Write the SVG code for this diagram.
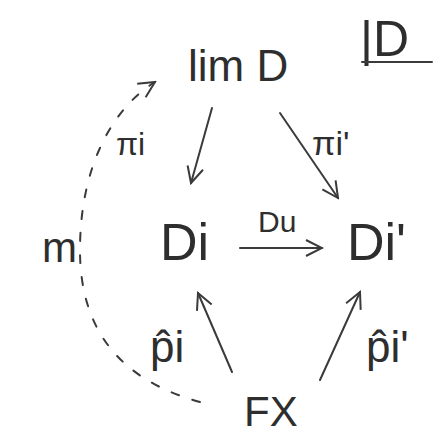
<svg xmlns="http://www.w3.org/2000/svg" width="434" height="439" viewBox="0 0 434 439">
<style>
.t{font-family:"Liberation Sans","DejaVu Sans",sans-serif;fill:#2e2e2e}
.e{stroke:#3a3a3a;stroke-width:2;fill:none;stroke-linecap:round}
</style>
<defs>
<marker id="ahb" viewBox="0 0 20 20" refX="18" refY="10" markerWidth="20" markerHeight="20" markerUnits="userSpaceOnUse" orient="auto">
<path d="M2,2 L18,10 L2,18" fill="none" stroke="#3a3a3a" stroke-width="2"/>
</marker>
</defs>
<rect width="434" height="439" fill="#ffffff"/>
<g id="title">
<text class="t" x="360" y="56" font-size="50">|D</text>
<line x1="362" y1="62" x2="432" y2="62" class="e"/>
</g>
<g id="limD"><text class="t" x="188" y="81" font-size="44">lim D</text></g>
<g id="Di"><text class="t" x="160" y="260" font-size="52">Di</text></g>
<g id="Di2"><text class="t" x="347" y="260" font-size="52">Di'</text></g>
<g id="FX"><text class="t" x="244" y="426" font-size="42">FX</text></g>
<g id="connectors">
<line class="e" x1="212" y1="108" x2="191" y2="183" marker-end="url(#ahb)"/>
<line class="e" x1="280" y1="113" x2="338" y2="198" marker-end="url(#ahb)"/>
<line class="e" x1="240" y1="248" x2="322" y2="248" marker-end="url(#ahb)"/>
<line class="e" x1="232" y1="372" x2="198" y2="293" marker-end="url(#ahb)"/>
<line class="e" x1="320" y1="380" x2="360" y2="292" marker-end="url(#ahb)"/>
<path class="e" d="M200,402 C120,380 80,330 80,250 C80,170 110,110 155,82" stroke-dasharray="8 14" marker-end="url(#ahb)"/>
</g>
<g id="labels">
<text class="t" x="116" y="155" font-size="32">πi</text>
<text class="t" x="312" y="155" font-size="34">πi'</text>
<text class="t" x="258" y="232" font-size="30">Du</text>
<text class="t" x="150" y="362" font-size="44">p̂i</text>
<text class="t" x="366" y="362" font-size="44">p̂i'</text>
<text class="t" x="42" y="262" font-size="42">m</text>
</g>
</svg>
